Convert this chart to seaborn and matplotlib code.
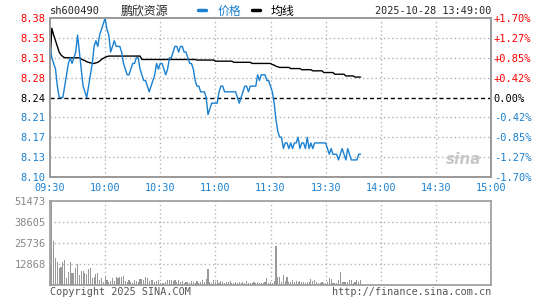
import matplotlib
matplotlib.use("Agg")
import matplotlib.pyplot as plt
from matplotlib.lines import Line2D
import pandas as pd
import seaborn as sns

# --- data (one value per minute, 09:30 -> 13:49) ---
prev_close = 8.24

price = [
    8.33, 8.31, 8.30, 8.29, 8.26, 8.24, 8.24, 8.24, 8.26, 8.28,
    8.30, 8.31, 8.30, 8.31, 8.32, 8.35, 8.32, 8.29, 8.26, 8.25,
    8.24, 8.26, 8.28, 8.30, 8.33, 8.34, 8.33, 8.35, 8.36, 8.37,
    8.38, 8.36, 8.35, 8.32, 8.33, 8.34, 8.33, 8.33, 8.33, 8.32,
    8.30, 8.29, 8.28, 8.28, 8.29, 8.30, 8.30, 8.31, 8.31, 8.29,
    8.28, 8.27, 8.27, 8.26, 8.25, 8.26, 8.27, 8.28, 8.30, 8.29,
    8.30, 8.30, 8.29, 8.28, 8.29, 8.31, 8.31, 8.32, 8.33, 8.33,
    8.32, 8.33, 8.33, 8.32, 8.32, 8.31, 8.30, 8.30, 8.29, 8.27,
    8.26, 8.26, 8.25, 8.25, 8.25, 8.24, 8.21, 8.22, 8.23, 8.23,
    8.23, 8.23, 8.25, 8.26, 8.26, 8.25, 8.25, 8.25, 8.25, 8.25,
    8.25, 8.25, 8.24, 8.23, 8.24, 8.25, 8.26, 8.26, 8.25, 8.26,
    8.26, 8.26, 8.26, 8.28, 8.27, 8.28, 8.28, 8.28, 8.27, 8.27,
    8.26, 8.25, 8.23, 8.20, 8.18, 8.17, 8.17, 8.15, 8.16, 8.16,
    8.15, 8.16, 8.15, 8.16, 8.16, 8.17, 8.15, 8.16, 8.16, 8.15,
    8.17, 8.15, 8.16, 8.15, 8.16, 8.16, 8.16, 8.16, 8.16, 8.16,
    8.16, 8.15, 8.14, 8.15, 8.14, 8.14, 8.14, 8.13, 8.14, 8.15,
    8.14, 8.13, 8.15, 8.14, 8.13, 8.13, 8.13, 8.13, 8.14, 8.14,
]

avg_line = (
    [8.300, 8.362, 8.350, 8.340, 8.330, 8.320, 8.315, 8.312, 8.310, 8.310]
    + [8.310] * 7 + [8.308, 8.306, 8.305]
    + [8.303, 8.302, 8.301, 8.300, 8.300, 8.301, 8.302, 8.304, 8.307, 8.309]
    + [8.311, 8.312] + [8.313] * 18
    + [8.307] * 30
    + [8.306] * 10 + [8.304] * 10 + [8.302] * 10 + [8.300] * 11
    + [8.298, 8.297, 8.295, 8.294]
    + [8.293] * 6 + [8.291] * 6 + [8.289] * 6 + [8.287] * 6
    + [8.284] * 6 + [8.281] * 6 + [8.278] * 5 + [8.276] * 4
)

volume = [
    12200, 51473, 26900, 16300, 14300, 10200, 11000, 14300, 15100, 4100,
    8000, 13900, 7600, 7200, 10200, 12700, 6100, 8400, 8400, 7200,
    6500, 9600, 10200, 4100, 5100, 6500, 7300, 3000, 4100, 2000,
    5100, 3100, 2000, 2500, 4100, 2500, 4600, 4100, 5100, 4600,
    5500, 2600, 2000, 3000, 2000, 1500, 3100, 2500, 2000, 3600,
    3800, 3000, 4600, 4100, 2500, 2800, 3000, 2000, 2300, 3100,
    1500, 1000, 1500, 1800, 2800, 2800, 3100, 2600, 3100, 2000,
    2800, 2000, 2300, 1500, 1800, 2000, 1500, 2300, 2000, 1500,
    2600, 1300, 2000, 3100, 1800, 3800, 9600, 2000, 1500, 3300,
    1800, 2800, 1500, 2300, 1800, 1500, 2000, 1800, 2600, 1500,
    1300, 1800, 1500, 2000, 1300, 1800, 1500, 2300, 1500, 1000,
    1500, 1800, 1300, 1800, 1000, 1300, 1500, 2000, 4100, 1000,
    1800, 1500, 2500, 23900, 5100, 5100, 2000, 6100, 2500, 4700,
    2000, 2000, 3000, 1600, 2400, 2000, 2400, 1600, 2000, 1400,
    1600, 1800, 3700, 2600, 3000, 1600, 1200, 1000, 1600, 1000,
    1400, 1800, 4300, 3500, 1400, 1400, 1400, 3000, 8000, 2000,
    2000, 2000, 2000, 2900, 3000, 1400, 1600, 3100, 1600, 3100,
]

time_ticks = [0, 30, 60, 90, 120, 150, 180, 210, 240]
time_labels = ["09:30", "10:00", "10:30", "11:00", "11:30",
               "13:30", "14:00", "14:30", "15:00"]

pct_levels = [1.70, 1.275, 0.85, 0.425, 0.0, -0.425, -0.85, -1.275, -1.70]
price_labels = ["8.38", "8.35", "8.31", "8.28", "8.24",
                "8.21", "8.17", "8.13", "8.10"]
pct_labels = ["+1.70%", "+1.27%", "+0.85%", "+0.42%", "0.00%",
              "-0.42%", "-0.85%", "-1.27%", "-1.70%"]

vol_ticks = [12868, 25736, 38605, 51473]

df = pd.DataFrame({
    "minute": range(len(price)),
    "price": price,
    "avg": avg_line,
    "volume": volume,
})

# --- style ---
RED = "#ff0000"
BLUE = "#1a80d0"
GRAY = "#999999"
GRID = "#b4b4b4"

sns.set_style("white")
plt.rcParams["font.family"] = ["DejaVu Sans Mono", "Noto Sans CJK SC"]


def label_color(pct):
    if pct > 0:
        return RED
    if pct < 0:
        return BLUE
    return "black"


W, H = 545, 300
fig = plt.figure(figsize=(W / 100, H / 100), dpi=100)
ax = fig.add_axes([50 / W, 1 - 177 / H, 441 / W, 159 / H])
axv = fig.add_axes([50 / W, 1 - 285 / H, 441 / W, 84 / H])

# --- price panel ---
span = prev_close * 0.017
level_prices = [prev_close * (1 + p / 100) for p in pct_levels]

for t in time_ticks[1:-1]:
    ax.axvline(t, color=GRID, lw=1, ls=(0, (1, 2)), zorder=0)
for p, lv in zip(pct_levels, level_prices):
    if p == 0:
        ax.axhline(lv, color="black", lw=1, ls=(0, (3, 2)), zorder=1)
    elif abs(p) < 1.7:
        ax.axhline(lv, color=GRID, lw=1, ls=(0, (1, 2)), zorder=0)

sns.lineplot(data=df, x="minute", y="avg", ax=ax, color="black", lw=1.0)
sns.lineplot(data=df, x="minute", y="price", ax=ax, color=BLUE, lw=1.0)

ax.set_xlim(0, 240)
ax.set_ylim(prev_close - span, prev_close + span)
ax.set_xticks(time_ticks)
ax.set_xticklabels(time_labels, color=BLUE, fontsize=7.3)
ax.set_yticks(level_prices)
ax.set_yticklabels(price_labels, fontsize=7.5)
for lbl, p in zip(ax.get_yticklabels(), pct_levels):
    lbl.set_color(label_color(p))
ax.set_xlabel("")
ax.set_ylabel("")
ax.tick_params(length=0, pad=3)
ax.tick_params(axis="x", pad=4)

ax2 = ax.twinx()
ax2.set_ylim(ax.get_ylim())
ax2.set_yticks(level_prices)
ax2.set_yticklabels(pct_labels, fontsize=7.5)
for lbl, p in zip(ax2.get_yticklabels(), pct_levels):
    lbl.set_color(label_color(p))
ax2.tick_params(length=0, pad=2)

for a in (ax, ax2, axv):
    for s in a.spines.values():
        s.set_color(GRAY)
        s.set_linewidth(1.2)

# sina watermark
ax.text(225, prev_close - span * 0.78, "sina", color="#c8c8c8", fontsize=11,
        fontstyle="italic", fontweight="bold", family="DejaVu Sans",
        ha="center", va="center")

# --- volume panel ---
for t in time_ticks[1:-1]:
    axv.axvline(t, color=GRID, lw=1, ls=(0, (1, 2)), zorder=0)
for v in vol_ticks[:-1]:
    axv.axhline(v, color=GRID, lw=1, ls=(0, (1, 2)), zorder=0)

sns.barplot(data=df, x="minute", y="volume", ax=axv, native_scale=True,
            color=GRAY, saturation=1, width=0.6, errorbar=None,
            linewidth=0, edgecolor="none")
axv.set_xlim(0, 240)
axv.set_ylim(0, vol_ticks[-1])
axv.set_xticks([])
axv.set_yticks(vol_ticks)
axv.set_yticklabels([str(v) for v in vol_ticks], color="#888888", fontsize=7.5)
axv.set_xlabel("")
axv.set_ylabel("")
axv.tick_params(length=0, pad=3)

# --- header / footer ---
ytop = 1 - 11 / H
fig.text(50 / W, ytop, "sh600490", fontsize=7.5, va="center", ha="left")
fig.text(121 / W, ytop, "鹏欣资源", fontsize=8.6, va="center", ha="left",
         family=["Noto Sans CJK SC", "DejaVu Sans"])
handles = [Line2D([], [], color=BLUE, lw=2.5), Line2D([], [], color="black", lw=2.5)]
fig.legend(handles, ["价格", "均线"], loc="center left",
           bbox_to_anchor=(198 / W, ytop), ncol=2, frameon=False,
           handlelength=0.7, handletextpad=0.9, columnspacing=0.9,
           borderpad=0, borderaxespad=0, labelcolor="linecolor",
           prop={"family": ["Noto Sans CJK SC", "DejaVu Sans"], "size": 8.6})
fig.text(491 / W, ytop, "2025-10-28 13:49:00", fontsize=7.3, va="center", ha="right")

ybot = 1 - 292 / H
fig.text(50 / W, ybot, "Copyright 2025 SINA.COM", fontsize=7.3, color="#555555",
         va="center", ha="left")
fig.text(491 / W, ybot, "http://finance.sina.com.cn", fontsize=7.3, color="#555555",
         va="center", ha="right")

fig.savefig("out.png", dpi=100)
